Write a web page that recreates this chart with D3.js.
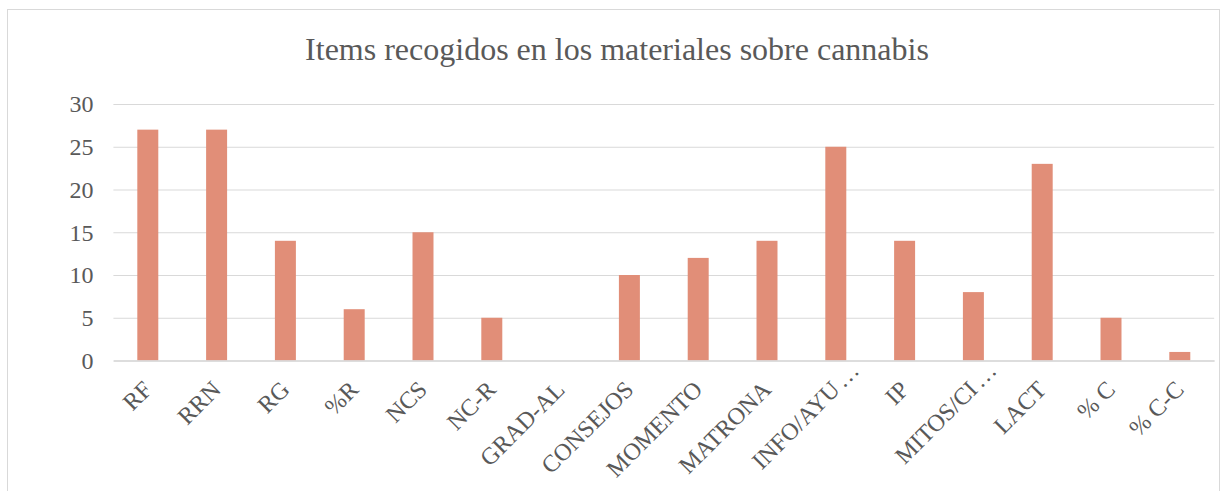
<!DOCTYPE html>
<html><head><meta charset="utf-8">
<script src="https://cdn.jsdelivr.net/npm/d3@7"></script>
<style>body{margin:0;background:#fff}svg{display:block}</style>
</head><body>
<script>
const categories = ["RF","RRN","RG","%R","NCS","NC-R","GRAD-AL","CONSEJOS","MOMENTO","MATRONA","INFO/AYU…","IP","MITOS/CI…","LACT","% C","% C-C"];
const values = [27,27,14,6,15,5,0,10,12,14,25,14,8,23,5,1];
const yTicks = [0,5,10,15,20,25,30];
const title = "Items recogidos en los materiales sobre cannabis";

(function(){
const W = 1223, H = 491;
const svg = d3.select("body").append("svg").attr("width", W).attr("height", H);
svg.append("rect").attr("x",7.5).attr("y",9.5).attr("width",1212).attr("height",490)
  .attr("fill","#fff").attr("stroke","#d9d9d9").attr("stroke-width",1);

const font = "'Liberation Serif','Times New Roman',serif";
const pl = 113.4, pr = 1214.2, pt = 104, pb = 360.5;

const x = d3.scaleBand().domain(categories).range([pl, pr]).paddingInner(0.695).paddingOuter(0.3475);
const y = d3.scaleLinear().domain([0,30]).range([pb, pt]);

svg.append("text").attr("x", 617).attr("y", 59.5).attr("text-anchor","middle")
  .attr("font-family", font).attr("font-size", 32).attr("fill","#595959").text(title);

const yAxis = svg.append("g").attr("transform", `translate(${pl},0)`)
  .call(d3.axisLeft(y).tickValues(yTicks).tickSize(-(pr-pl)).tickPadding(20));
yAxis.select(".domain").remove();
yAxis.selectAll(".tick line").attr("stroke","#d9d9d9").attr("stroke-width",1);
yAxis.selectAll(".tick text").attr("font-family", font).attr("font-size", 24).attr("fill","#595959").attr("dy","0.33em");

svg.append("g").selectAll("rect").data(values).join("rect")
  .attr("x", (d,i) => x(categories[i]))
  .attr("width", x.bandwidth())
  .attr("y", d => y(d))
  .attr("height", d => y(0) - y(d))
  .attr("fill", "#E18E78");

const xAxis = svg.append("g").attr("transform", `translate(0,${pb})`)
  .call(d3.axisBottom(x).tickSize(0).tickPadding(0));
xAxis.select(".domain").attr("stroke","#d9d9d9").attr("stroke-width",1.5);
const tr = "translate(-6,19) rotate(-45)";
xAxis.selectAll(".tick").each(function(d){
  const g = d3.select(this);
  const t = g.select("text");
  const trunc = d.endsWith("…");
  const stem = trunc ? d.slice(0, -1) : d;
  t.text(stem)
    .attr("font-family", font).attr("font-size", 24).attr("fill","#595959")
    .attr("text-anchor", "end").attr("dy", "0.68em").attr("y", 0).attr("x", 0)
    .attr("transform", tr);
  if (trunc) {
    const len = t.node().getComputedTextLength();
    t.attr("text-anchor", "start").attr("x", -len);
    t.append("tspan").attr("dx", 3).attr("letter-spacing", 2).text("…");
  }
});
})();
</script>
</body></html>
